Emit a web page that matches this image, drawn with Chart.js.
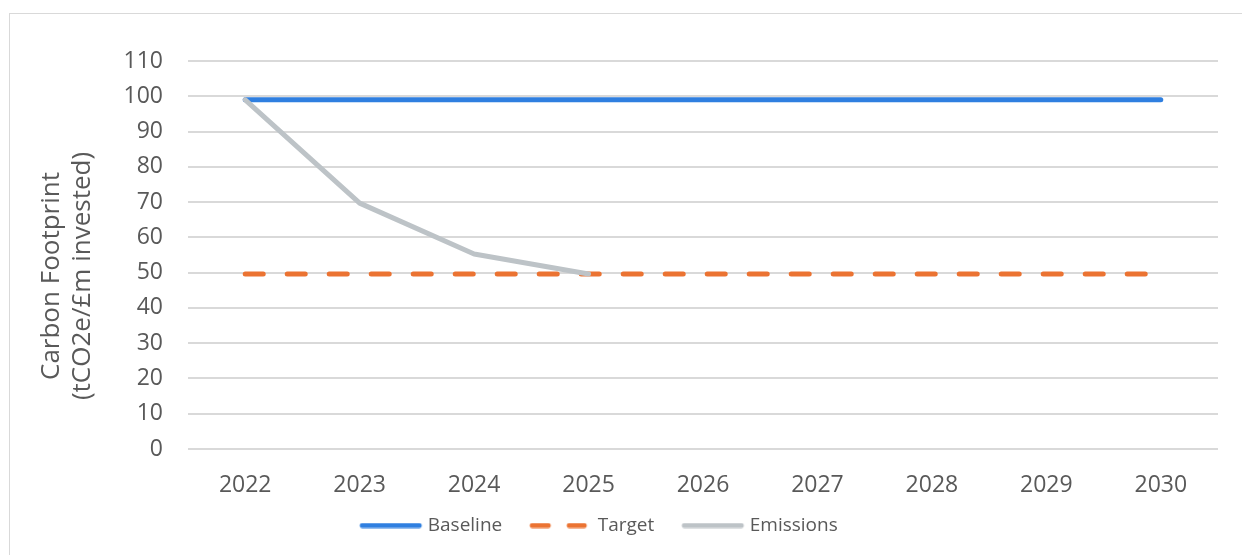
<!DOCTYPE html>
<html>
<head>
<meta charset="utf-8">
<script src="https://cdn.jsdelivr.net/npm/chart.js@4"></script>
<style>
  html, body { margin: 0; padding: 0; background: #fff; overflow: hidden; }
  #wrap { position: relative; width: 1242px; height: 555px; }
  #frame { position: absolute; left: 9px; top: 13px; width: 1300px; height: 600px;
           border: 1.5px solid #d9d9d9; box-sizing: border-box; }
  canvas { position: absolute; left: 0; top: 0; }
</style>
</head>
<body>
<div id="wrap">
  <div id="frame"></div>
  <canvas id="c" width="1242" height="555"></canvas>
</div>
<script>
const years = ['2022', '2023', '2024', '2025', '2026', '2027', '2028', '2029', '2030'];
const baseline = [99, 99, 99, 99, 99, 99, 99, 99, 99];
const target = [49.6, 49.6, 49.6, 49.6, 49.6, 49.6, 49.6, 49.6, 49.6];
const emissions = [99, 69.7, 55.3, 49.6, null, null, null, null, null];
const yTicks = [0, 10, 20, 30, 40, 50, 60, 70, 80, 90, 100, 110];
const yTitle = ['Carbon Footprint', '(tCO2e/£m invested)'];

const FONT = "'Open Sans', 'Noto Sans', sans-serif";
const TEXT = '#595959';
const BLUE = '#2F7FE0';
const ORANGE = '#EB7332';
const GREY = '#BDC3C7';

// legend symbols: line swatches drawn toward the right of a wider transparent box
const SYMBOL_BOX = 76;
function swatch(color, segments) {
  const c = document.createElement('canvas');
  c.width = 88; c.height = 6;
  const g = c.getContext('2d');
  g.strokeStyle = color;
  g.lineWidth = 5;
  g.lineCap = 'round';
  segments.forEach(([a, b]) => {
    g.beginPath(); g.moveTo(a, 3); g.lineTo(b, 3); g.stroke();
  });
  return c;
}
const legendSymbols = [
  swatch(BLUE, [[26, 83]]),
  swatch(ORANGE, [[26, 42], [63, 78]]),
  swatch(GREY, [[26, 83]])
];

// rotated two-line axis title, centred on the chart's full height
const axisTitle = {
  id: 'axisTitle',
  afterDraw(chart) {
    const ctx = chart.ctx;
    ctx.save();
    ctx.fillStyle = TEXT;
    ctx.font = "26px " + FONT;
    ctx.textAlign = 'center';
    ctx.textBaseline = 'middle';
    ctx.translate(67, 276);
    ctx.rotate(-Math.PI / 2);
    ctx.fillText(yTitle[0], 0, -15.5);
    ctx.fillText(yTitle[1], 0, 15.5);
    ctx.restore();
  }
};

new Chart(document.getElementById('c'), {
  type: 'line',
  data: {
    labels: years,
    datasets: [
      { label: 'Baseline', data: baseline, borderColor: BLUE, backgroundColor: BLUE,
        borderWidth: 5, borderCapStyle: 'round', order: 2 },
      { label: 'Target', data: target, borderColor: ORANGE, backgroundColor: ORANGE,
        borderWidth: 5, borderCapStyle: 'round', borderDash: [18, 24], order: 1 },
      { label: 'Emissions', data: emissions, borderColor: GREY, backgroundColor: GREY,
        borderWidth: 5, borderCapStyle: 'round', borderJoinStyle: 'round', order: 0 }
    ]
  },
  options: {
    responsive: false,
    animation: false,
    spanGaps: false,
    elements: { point: { radius: 0, hoverRadius: 0 }, line: { tension: 0 } },
    layout: { padding: { top: 61, right: 24, left: -38, bottom: 10 } },
    plugins: {
      tooltip: { enabled: false },
      legend: {
        position: 'bottom',
        labels: {
          usePointStyle: true,
          boxHeight: 6,
          pointStyleWidth: SYMBOL_BOX,
          padding: 10,
          color: TEXT,
          font: { family: FONT, size: 19 },
          generateLabels(chart) {
            const items = Chart.defaults.plugins.legend.labels.generateLabels(chart);
            items.forEach(it => { it.pointStyle = legendSymbols[it.datasetIndex]; it.lineWidth = 0; });
            return items.sort((a, b) => a.datasetIndex - b.datasetIndex);
          }
        }
      }
    },
    scales: {
      x: {
        offset: true,
        grid: { display: false, drawTicks: false },
        border: { display: false },
        ticks: { color: TEXT, font: { family: FONT, size: 23 }, padding: 23, maxRotation: 0 },
        afterFit(scale) { scale.height = 57; }
      },
      y: {
        min: 0,
        max: 110,
        afterBuildTicks(scale) { scale.ticks = yTicks.map(v => ({ value: v })); },
        grid: { color: '#d9d9d9', lineWidth: 2, drawTicks: false },
        border: { display: false },
        ticks: { color: TEXT, font: { family: FONT, size: 23 }, padding: 25 },
        afterFit(scale) { scale.width = 226; }
      }
    }
  },
  plugins: [axisTitle]
});
</script>
</body>
</html>
